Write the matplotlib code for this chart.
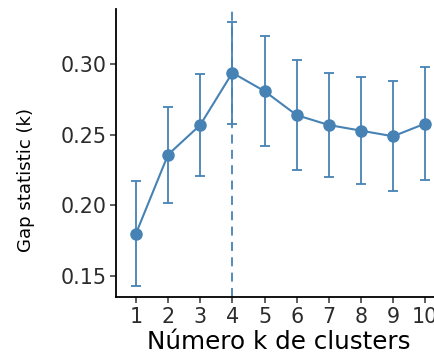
import numpy as np
import matplotlib
matplotlib.use('Agg')
import matplotlib.pyplot as plt

# Gap statistic per number of clusters, with its standard error
k = [1, 2, 3, 4, 5, 6, 7, 8, 9, 10]
gap = [0.180, 0.236, 0.257, 0.294, 0.281, 0.264, 0.257, 0.253, 0.249, 0.258]
se = [0.037, 0.034, 0.036, 0.036, 0.039, 0.039, 0.037, 0.038, 0.039, 0.040]
k_opt = 4
yticks = [0.15, 0.20, 0.25, 0.30]

plt.rcParams['font.family'] = ['DejaVu Sans']
color = '#4682B4'
dark = '#2b2b2b'

fig = plt.figure(figsize=(4.35, 3.56), dpi=100)
# panel runs past the right edge of the figure
ax = fig.add_axes([0.2667, 0.1657, 0.7566, 0.809])

ax.axvline(k_opt, color=color, lw=1.3, ls=(0, (5, 3.5)), zorder=1)
ax.errorbar(k, gap, yerr=se, color=color, lw=1.5, elinewidth=1.3,
            capsize=3.6, capthick=1.3, marker='o', markersize=8, zorder=3)

ax.set_xlim(0.38, 10.62)
ax.set_ylim(0.1351, 0.3392)
ax.set_xticks(k)
ax.set_yticks(yticks)
ax.set_yticklabels(['%.2f' % v for v in yticks])

for side in ['top', 'right']:
    ax.spines[side].set_visible(False)
for side in ['left', 'bottom']:
    ax.spines[side].set_linewidth(1.3)
    ax.spines[side].set_color('black')
ax.tick_params(axis='both', length=4, width=1.1, color='#333333',
               labelsize=14.9, labelcolor=dark, pad=3)

ax.set_xlabel('Número k de clusters', fontsize=17.7, color='black', va='baseline')
ax.xaxis.set_label_coords(0.494, -0.181)
ax.set_ylabel('Gap statistic (k)', fontsize=13.1, color='black', va='center')
ax.yaxis.set_label_coords(-0.275, 0.408)

fig.savefig('out.png', dpi=100)
